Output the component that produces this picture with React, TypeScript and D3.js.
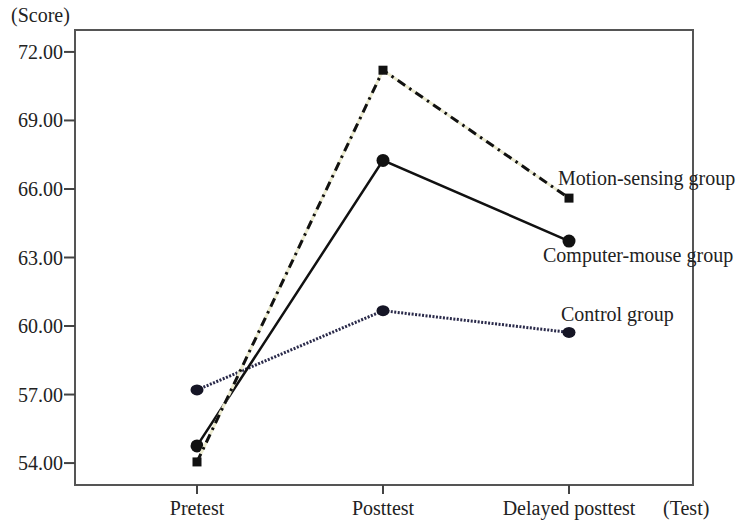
import React from 'react'
import * as d3 from 'd3'

const tests = ['Pretest', 'Posttest', 'Delayed posttest']
const yTicks = [54, 57, 60, 63, 66, 69, 72]
const motionScores = [54.05, 71.2, 65.6]
const mouseScores = [54.75, 67.25, 63.72]
const controlScores = [57.2, 60.67, 59.72]
const groupNames = ['Motion-sensing group', 'Computer-mouse group', 'Control group']

const W = 745
const H = 522
const frame = { left: 75, top: 30, right: 693, bottom: 485 }

const App = () => {
  const x = d3.scalePoint<string>()
    .domain(tests)
    .range([197, 569])
  const y = d3.scaleLinear()
    .domain([53.04, 72.96])
    .range([frame.bottom, frame.top])

  const line = d3.line<number>()
    .x((d, i) => x(tests[i]) as number)
    .y(d => y(d))

  const textStyle = { fontFamily: "'Liberation Serif', 'Times New Roman', Times, serif", fontSize: 20, fill: '#222' }

  return (
    <svg width={W} height={H} style={{ position: 'absolute', left: 0, top: 0, background: '#fff' }}>
      {/* frame */}
      <rect x={frame.left} y={frame.top} width={frame.right - frame.left} height={frame.bottom - frame.top}
        fill="none" stroke="#555" strokeWidth={2} />

      {/* y axis */}
      {yTicks.map(t => (
        <g key={t}>
          <line x1={frame.left - 11} x2={frame.left} y1={y(t)} y2={y(t)} stroke="#444" strokeWidth={2} />
          <text x={frame.left - 12} y={y(t)} dy="0.35em" textAnchor="end" style={textStyle}>
            {t.toFixed(2)}
          </text>
        </g>
      ))}
      <text x={11} y={22} style={textStyle}>(Score)</text>

      {/* x axis */}
      {tests.map(t => (
        <g key={t}>
          <line x1={x(t)} x2={x(t)} y1={frame.bottom} y2={frame.bottom + 9} stroke="#444" strokeWidth={2} />
          <text x={x(t)} y={frame.bottom + 30} textAnchor="middle" style={textStyle}>{t}</text>
        </g>
      ))}
      <text x={663} y={frame.bottom + 30} style={textStyle}>(Test)</text>

      {/* control group */}
      <path d={line(controlScores) as string} fill="none" stroke="#2a2a4a" strokeWidth={3}
        strokeDasharray="2,1.5" />
      {controlScores.map((d, i) => (
        <ellipse key={i} cx={x(tests[i])} cy={y(d)} rx={6.5} ry={5.5} fill="#151525" />
      ))}

      {/* computer-mouse group */}
      <path d={line(mouseScores) as string} fill="none" stroke="#111" strokeWidth={2.5} />
      {mouseScores.map((d, i) => (
        <circle key={i} cx={x(tests[i])} cy={y(d)} r={6.5} fill="#111" />
      ))}

      {/* motion-sensing group */}
      <path d={line(motionScores) as string} fill="none" stroke="#ecebd0" strokeWidth={3} />
      <path d={line(motionScores) as string} fill="none" stroke="#111" strokeWidth={3}
        strokeDasharray="9,5,2.5,5" />
      {motionScores.map((d, i) => (
        <rect key={i} x={(x(tests[i]) as number) - 4.5} y={y(d) - 4.5} width={9} height={9} fill="#111" />
      ))}

      {/* group labels */}
      <text x={558} y={y(motionScores[2]) - 13} style={textStyle}>{groupNames[0]}</text>
      <text x={543} y={y(mouseScores[2]) + 21} style={textStyle}>{groupNames[1]}</text>
      <text x={561} y={y(controlScores[2]) - 11} style={textStyle}>{groupNames[2]}</text>
    </svg>
  )
}

export default App
